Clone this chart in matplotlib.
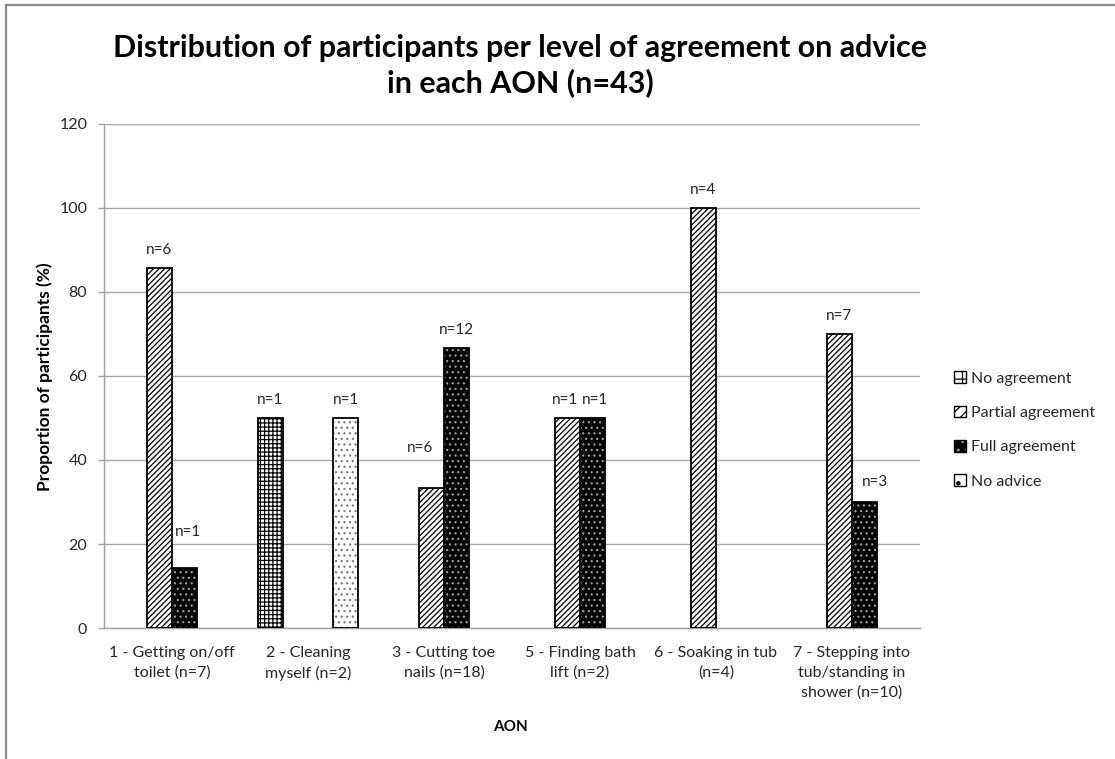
import matplotlib
matplotlib.use("Agg")
import matplotlib.pyplot as plt
from matplotlib.patches import Patch
from matplotlib.legend_handler import HandlerTuple
from matplotlib.lines import Line2D
import numpy as np

plt.rcParams['font.family'] = ['Lato', 'DejaVu Sans']
plt.rcParams['hatch.linewidth'] = 0.9

categories = ['1 - Getting on/off\ntoilet (n=7)', '2 - Cleaning\nmyself (n=2)',
              '3 - Cutting toe\nnails (n=18)', '5 - Finding bath\nlift (n=2)',
              '6 - Soaking in tub\n(n=4)', '7 - Stepping into\ntub/standing in\nshower (n=10)']
series = ['No agreement', 'Partial agreement', 'Full agreement', 'No advice']
no_agreement = [0, 50, 0, 0, 0, 0]
partial_agreement = [85.7, 0, 33.3, 50, 100, 70]
full_agreement = [14.3, 0, 66.7, 50, 0, 30]
no_advice = [0, 50, 0, 0, 0, 0]
no_agreement_n = [0, 1, 0, 0, 0, 0]
partial_agreement_n = [6, 0, 6, 1, 4, 7]
full_agreement_n = [1, 0, 12, 1, 0, 3]
no_advice_n = [0, 1, 0, 0, 0, 0]
yticks = [0, 20, 40, 60, 80, 100, 120]

values = [no_agreement, partial_agreement, full_agreement, no_advice]
counts = [no_agreement_n, partial_agreement_n, full_agreement_n, no_advice_n]

# label offsets (pixels) for manually moved labels: (series index, category index) -> (dx, dy)
label_offsets = {(2, 0): (3, 36), (1, 2): (-11, 40), (2, 5): (10, 20),
                 (1, 3): (-2, 18), (2, 3): (2, 18)}

W, H = 1115, 759
fig = plt.figure(figsize=(W / 100, H / 100), dpi=100)
ax = fig.add_axes([104 / W, 1 - 628 / H, 816 / W, 504 / H])

x = np.arange(len(categories))
bw = 0.184
styles = [
    dict(face='white', hatch='++++', hcol='black'),
    dict(face='white', hatch='//////', hcol='black'),
    dict(face='black', hatch='...', hcol='#9a9a9a'),
    dict(face='white', hatch='...', hcol='#7a7a7a'),
]

for si, (vals, ns, st) in enumerate(zip(values, counts, styles)):
    pos = x + (si - 1.5) * bw
    for ci, (xi, v, n) in enumerate(zip(pos, vals, ns)):
        if v <= 0:
            continue
        ax.bar(xi, v, bw, facecolor=st['face'], edgecolor=st['hcol'],
               hatch=st['hatch'], linewidth=0, zorder=2)
        ax.bar(xi, v, bw, facecolor='none', edgecolor='black', linewidth=1.3, zorder=3)
        dx, dy = label_offsets.get((si, ci), (0, 18))
        ax.annotate(f'n={n}', (xi, v), xytext=(dx * 0.72, dy * 0.72),
                    textcoords='offset points', ha='center', va='center',
                    fontsize=11, color='#262626')

ax.set_xlim(-0.5, len(categories) - 0.5)
ax.set_ylim(0, 120)
ax.set_yticks(yticks)
ax.set_yticklabels([str(t) for t in yticks], fontsize=11.5, color='#262626')
ax.set_xticks(x)
ax.set_xticklabels(categories, fontsize=11.5, color='#262626', linespacing=1.5)
ax.tick_params(axis='x', length=0, pad=13)
ax.tick_params(axis='y', length=4, width=1, color='#a0a0a0', pad=8)
ax.grid(axis='y', color='#a6a6a6', linewidth=1, zorder=0)
ax.set_axisbelow(True)
for s in ['top', 'right']:
    ax.spines[s].set_visible(False)
for s in ['left', 'bottom']:
    ax.spines[s].set_color('#a0a0a0')
    ax.spines[s].set_linewidth(1)

fig.text(45 / W, 1 - 377 / H, 'Proportion of participants (%)', fontsize=12.5,
         fontweight='bold', rotation=90, ha='center', va='center')
fig.text(510 / W, 1 - 727 / H, 'AON', fontsize=11, fontweight='bold', ha='center', va='center')

# Title, sized to the reference width
t1 = fig.text(520 / W, 1 - 48 / H, 'Distribution of participants per level of agreement on advice',
              fontsize=20, fontweight='bold', ha='center', va='center')
t2 = fig.text(520 / W, 1 - 83 / H, 'in each AON (n=43)',
              fontsize=20, fontweight='bold', ha='center', va='center')
fig.canvas.draw()
w = t1.get_window_extent().width
fs = 20 * 815 / w
t1.set_fontsize(fs)
t2.set_fontsize(fs)

# Legend
handles = [
    Patch(facecolor='white', edgecolor='black', hatch='++', linewidth=1),
    Patch(facecolor='white', edgecolor='black', hatch='///', linewidth=1),
    (Patch(facecolor='black', edgecolor='#9a9a9a', hatch='..', linewidth=0),
     Patch(facecolor='none', edgecolor='black', linewidth=1)),
    Patch(facecolor='white', edgecolor='black', hatch='.', linewidth=1),
]
fig.legend(handles, series, loc='center left', bbox_to_anchor=(940 / W, 1 - 430 / H),
           frameon=False, fontsize=11.5, handlelength=0.75, handleheight=0.75,
           handletextpad=0.3, labelspacing=1.25, labelcolor='#262626',
           handler_map={tuple: HandlerTuple(ndivide=1, pad=0)})

# chart area border (partially cropped)
fig.add_artist(Line2D([6 / W, 6 / W], [0, 1 - 5 / H], color='#8a8a8a', linewidth=1.6))
fig.add_artist(Line2D([6 / W, 1.0], [1 - 5 / H, 1 - 5 / H], color='#8a8a8a', linewidth=1.6))

fig.savefig('out.png', dpi=100)
